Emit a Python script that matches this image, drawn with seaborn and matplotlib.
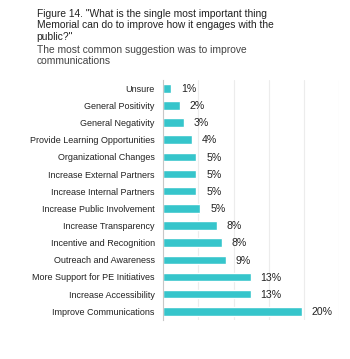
import matplotlib
matplotlib.use("Agg")
import matplotlib.pyplot as plt
import seaborn as sns
import pandas as pd

categories = ["Unsure", "General Positivity", "General Negativity",
              "Provide Learning Opportunities", "Organizational Changes",
              "Increase External Partners", "Increase Internal Partners",
              "Increase Public Involvement", "Increase Transparency",
              "Incentive and Recognition", "Outreach and Awareness",
              "More Support for PE Initiatives", "Increase Accessibility",
              "Improve Communications"]
values = [1.19, 2.37, 2.94, 4.12, 4.74, 4.74, 4.74, 5.31, 7.67, 8.30, 8.90,
          12.46, 12.46, 19.66]
value_labels = ["1%", "2%", "3%", "4%", "5%", "5%", "5%", "5%", "8%", "8%",
                "9%", "13%", "13%", "20%"]

df = pd.DataFrame({"cat": categories, "val": values})

sns.set_theme(style="white")
plt.rcParams["font.family"] = ["Liberation Sans", "DejaVu Sans"]

fig = plt.figure(figsize=(3.5, 3.59), dpi=100)
ax = fig.add_axes([0.466, 0.109, 0.503, 0.669])

sns.barplot(data=df, x="val", y="cat", orient="h", color="#36c5cb",
            saturation=1, width=0.5, ax=ax)

ax.set_xlim(0, 25)
ax.set_ylim(13.5, -0.5)
ax.set_xticks([5, 10, 15, 20, 25])
ax.set_xticklabels([])
ax.tick_params(axis="x", length=0)
ax.tick_params(axis="y", length=0, pad=6, labelsize=6.45, labelcolor="#222222")
ax.xaxis.grid(True, color="#ececec", linewidth=0.8)
ax.set_axisbelow(True)
for s in ["top", "right", "bottom"]:
    ax.spines[s].set_visible(False)
ax.spines["left"].set_color("#c8c8c8")
ax.spines["left"].set_linewidth(0.8)
ax.set_xlabel("")
ax.set_ylabel("")

for i, (v, lab) in enumerate(zip(values, value_labels)):
    ax.annotate(lab, xy=(v, i), xytext=(7, -0.5), textcoords="offset points",
                va="center", ha="left", fontsize=7.6, color="#222222")

fig.text(0.105, 0.976, "Figure 14. \"What is the single most important thing\n"
         "Memorial can do to improve how it engages with the\npublic?\"",
         fontsize=7.4, color="#222222", va="top", ha="left", linespacing=1.22)
fig.text(0.105, 0.876, "The most common suggestion was to improve\ncommunications",
         fontsize=7.4, color="#444444", va="top", ha="left", linespacing=1.22)

fig.savefig("out.png", dpi=100)
